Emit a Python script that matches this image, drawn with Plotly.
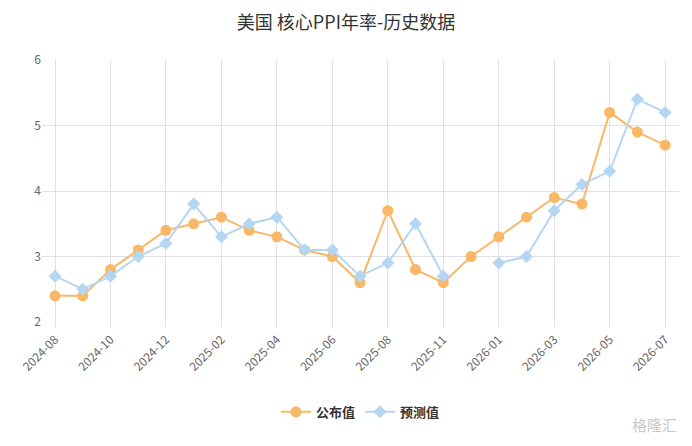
import plotly.graph_objects as go

months = ["2024-08", "2024-09", "2024-10", "2024-11", "2024-12", "2025-01", "2025-02",
          "2025-03", "2025-04", "2025-05", "2025-06", "2025-07", "2025-08", "2025-09",
          "2025-11", "2025-12", "2026-01", "2026-02", "2026-03", "2026-04", "2026-05",
          "2026-06", "2026-07"]
actual = [2.4, 2.4, 2.8, 3.1, 3.4, 3.5, 3.6, 3.4, 3.3, 3.1, 3.0, 2.6, 3.7, 2.8,
          2.6, 3.0, 3.3, 3.6, 3.9, 3.8, 5.2, 4.9, 4.7]
forecast = [2.7, 2.5, 2.7, 3.0, 3.2, 3.8, 3.3, 3.5, 3.6, 3.1, 3.1, 2.7, 2.9, 3.5,
            2.7, None, 2.9, 3.0, 3.7, 4.1, 4.3, 5.4, 5.2]
tick_labels = ["2024-08", "2024-10", "2024-12", "2025-02", "2025-04", "2025-06",
               "2025-08", "2025-11", "2026-01", "2026-03", "2026-05", "2026-07"]
y_ticks = [2, 3, 4, 5, 6]

orange = "#f9b767"
blue = "#b5d6f2"
font = "Noto Sans CJK SC, Noto Sans, sans-serif"

fig = go.Figure()
fig.add_trace(go.Scatter(x=months, y=actual, name="<b>公布值</b>", mode="lines+markers",
                         line=dict(color=orange, width=2),
                         marker=dict(symbol="circle", size=11, color=orange)))
fig.add_trace(go.Scatter(x=months, y=forecast, name="<b>预测值</b>", mode="lines+markers",
                         line=dict(color=blue, width=2),
                         marker=dict(symbol="diamond", size=10, color=blue)))

fig.update_layout(
    width=692, height=446,
    margin=dict(l=42, r=13, t=60, b=124),
    paper_bgcolor="white", plot_bgcolor="white",
    font=dict(family=font, color="#666666", size=12),
    title=dict(text="美国 核心PPI年率-历史数据", x=0.5, xanchor="center", y=0.95, yanchor="middle",
               font=dict(size=18, color="#333333", family=font)),
    showlegend=True,
    legend=dict(orientation="h", x=0.5, xanchor="center", y=-0.343, yanchor="middle",
                font=dict(size=13, color="#333333", family=font), itemwidth=30),
    xaxis=dict(type="category", categoryorder="array", categoryarray=months,
               range=[-0.47, len(months) - 0.5],
               tickmode="array", tickvals=tick_labels, ticktext=tick_labels,
               tickangle=-45, showgrid=True, gridcolor="#dfe1e6", gridwidth=1,
               ticks="outside", ticklen=5, tickcolor="#dfe1e6",
               showline=False, zeroline=False,
               tickfont=dict(size=12, color="#666666")),
    yaxis=dict(range=[2, 6], tickvals=y_ticks, showgrid=True, gridcolor="#dfe1e6",
               gridwidth=1, zeroline=False, showline=False,
               ticks="", tickfont=dict(size=12, color="#666666")),
    annotations=[dict(text="格隆汇", x=1.0, y=-0.39, xref="paper", yref="paper",
                      xanchor="right", yanchor="middle", showarrow=False,
                      font=dict(size=15, color="#c8c8c8", family=font))],
)

fig.write_html("out.html")
